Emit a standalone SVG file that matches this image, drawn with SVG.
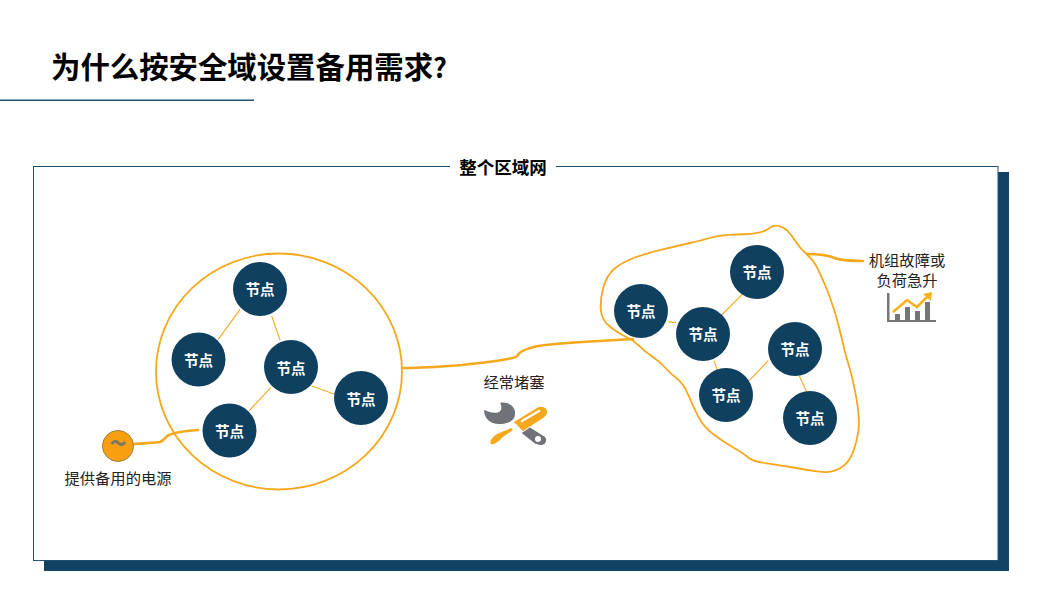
<svg xmlns="http://www.w3.org/2000/svg" width="1053" height="609" viewBox="0 0 1053 609">
<style>
text{font-family:"Noto Sans CJK SC","Liberation Sans",sans-serif}
.node circle{fill:#0f4060}
.node text{fill:#fff;font-size:14.5px;font-weight:700;text-anchor:middle}
.lbl{fill:#222;font-size:15.3px;text-anchor:middle}
.link{stroke:#f2ae30;stroke-width:1.2;fill:none}
.wire{stroke:#f5a81c;stroke-width:1.8;fill:none;stroke-linecap:round;stroke-linejoin:round}
.thick{stroke-width:2.6}
</style>
<rect width="1053" height="609" fill="#fff"/>
<g id="header">
<text x="51" y="78" font-size="29.4" font-weight="700" fill="#000">为什么按安全域设置备用需求<tspan font-size="27">?</tspan></text>
<rect x="0" y="99.500" width="254" height="1.500" fill="#1f5373"/>
</g>
<g id="frame">
<rect x="44" y="172" width="965" height="399" fill="#0f4263"/>
<rect x="33.500" y="166.500" width="964.500" height="394" fill="#fff" stroke="#1f5373" stroke-width="1"/>
<rect x="450" y="160" width="106" height="14" fill="#fff"/>
<text x="503" y="174" font-size="17.500" font-weight="700" fill="#000" text-anchor="middle">整个区域网</text>
</g>
<g id="connectors">
<ellipse class="wire" cx="279" cy="371.500" rx="123" ry="118"/>
<path class="wire" d="M778,225.800 Q783.300,226.700 787.500,230.800 Q791.700,235 795.800,241.700 Q800,248.300 806.700,254.200 Q813.300,260 816.700,266.700 Q820,273.300 825,285 Q830,296.700 834.200,310 Q838.300,323.300 841.700,338.300 Q845,353.300 849.200,366.700 Q853.300,380 856.700,400 Q860,420 858.300,431.700 Q856.700,443.300 852.500,453.300 Q848.300,463.300 840,468.300 Q831.700,473.300 819.200,471.700 Q806.700,470 793.300,467.500 Q780,465 766.700,463.300 Q753.300,461.700 748.300,457.500 Q743.300,453.300 733.300,447.500 Q723.300,441.700 713.300,434.200 Q703.300,426.700 698.300,416.700 Q693.300,406.700 688.300,395 Q683.300,383.300 676.700,378.300 Q670,373.300 665,367.500 Q660,361.700 652.500,356.700 Q645,351.700 639.200,345.800 Q633.300,340 625.800,336.700 Q618.300,333.300 610,326.700 Q601.700,320 600.800,310 Q600,300 603.300,287.500 Q606.700,275 615,268.300 Q623.300,261.700 635,257.500 Q646.700,253.300 661.700,249.700 Q676.700,246 690,243 Q703.300,240 711.700,237.500 Q720,235 736.700,234.500 Q753.300,234 760,232.300 Q766.700,230.700 769.700,227.800 Q772.700,225 778,225.800Z"/>
<path class="wire thick" d="M402,368 C425,368 445,366 462,365 C480,363 497,361 508,359 C514,358 517,357 518,355 C519,352 525,349 538,346 C550,344 565,343 582,342 C600,341 618,340 633,339"/>
<path class="wire thick" d="M133,444 C145,443 155,443 160,442 C165,440 165,437 169,435 C174,432 186,431 198,430"/>
<path class="wire thick" d="M807,254 C818,254 826,255 832,257 C838,260 850,261 863,261"/>
<g class="links">
<path class="link" d="M240,309.300L218.300,339.300M271.700,316L280,340M270.700,387.700L249.300,410.700M311.700,386L334,394"/>
<path class="link" d="M668.300,321.700L676,322.700M745,291.700L721.700,315M714,360.700L717.300,370M768.300,360.700L749.300,380.700M799.300,376L806.700,391.700"/>
</g>
</g>
<g id="n1" class="node"><circle cx="260" cy="289" r="27"/><text x="260" y="295">节点</text></g>
<g id="n2" class="node"><circle cx="198.500" cy="359.500" r="27"/><text x="198.500" y="366">节点</text></g>
<g id="n3" class="node"><circle cx="291" cy="367" r="27"/><text x="291" y="374">节点</text></g>
<g id="n4" class="node"><circle cx="361" cy="398" r="27"/><text x="361" y="405">节点</text></g>
<g id="n5" class="node"><circle cx="229.500" cy="430.500" r="27"/><text x="229.500" y="437">节点</text></g>
<g id="n6" class="node"><circle cx="641" cy="311" r="27"/><text x="641" y="317">节点</text></g>
<g id="n7" class="node"><circle cx="757" cy="272" r="27"/><text x="757" y="278">节点</text></g>
<g id="n8" class="node"><circle cx="703" cy="334" r="27"/><text x="703" y="340">节点</text></g>
<g id="n9" class="node"><circle cx="795" cy="349" r="27"/><text x="795" y="355">节点</text></g>
<g id="n10" class="node"><circle cx="726" cy="395" r="27"/><text x="726" y="401">节点</text></g>
<g id="n11" class="node"><circle cx="810" cy="418" r="27"/><text x="810" y="424">节点</text></g>
<g id="source">
<circle cx="118" cy="446" r="15.500" fill="#f99f0f" stroke="#9c8140" stroke-width="1"/>
<text x="118" y="454" font-size="30" font-weight="700" fill="#7d7a60" text-anchor="middle">~</text>
<text class="lbl" x="118" y="484">提供备用的电源</text>
</g>
<g id="congestion">
<text class="lbl" x="514" y="388">经常堵塞</text>
<path fill="#6f7276" d="M484,410 C489,412 495,414 499,412 C502,410 502,406 500,403 C508,401 516,407 515,414 C515,421 507,424 499,424 C490,424 484,418 484,410Z"/>
<path fill="#6f7276" d="M521.700,433 L530,427.500 L545,437 C548,440 545,446 540,445 L535,443.500Z"/>
<circle cx="538" cy="439" r="3" fill="#fff"/>
<path fill="#f5a81c" d="M514,422 L537,408 C542,405 548,408 547,413 C547,415 545,416 543,418 L523,431Z"/>
<path d="M522,421L539,411" stroke="#fff" stroke-width="2.500" stroke-linecap="round" fill="none"/>
<path fill="#f5a81c" d="M511,428 L513,430 L503,437 C498,442 494,445 491,444 C489,442 492,437 497,434 C501,432 505,431 511,428Z"/>
</g>
<g id="surge">
<text class="lbl" x="907" y="266">机组故障或</text>
<text class="lbl" x="907" y="286">负荷急升</text>
<path fill="#767676" d="M887,293h2.500v27h46.500v2h-49zM895,314h5v6h-5zM905,307h5v13h-5zM915,311h5v9h-5zM925,302h5v18h-5z"/>
<path d="M893,312L907,300L917,307L928,296" stroke="#f5b21c" stroke-width="2.500" fill="none"/>
<path fill="#f5b21c" d="M923,294L932,292L931,301Z"/>
</g>
</svg>
